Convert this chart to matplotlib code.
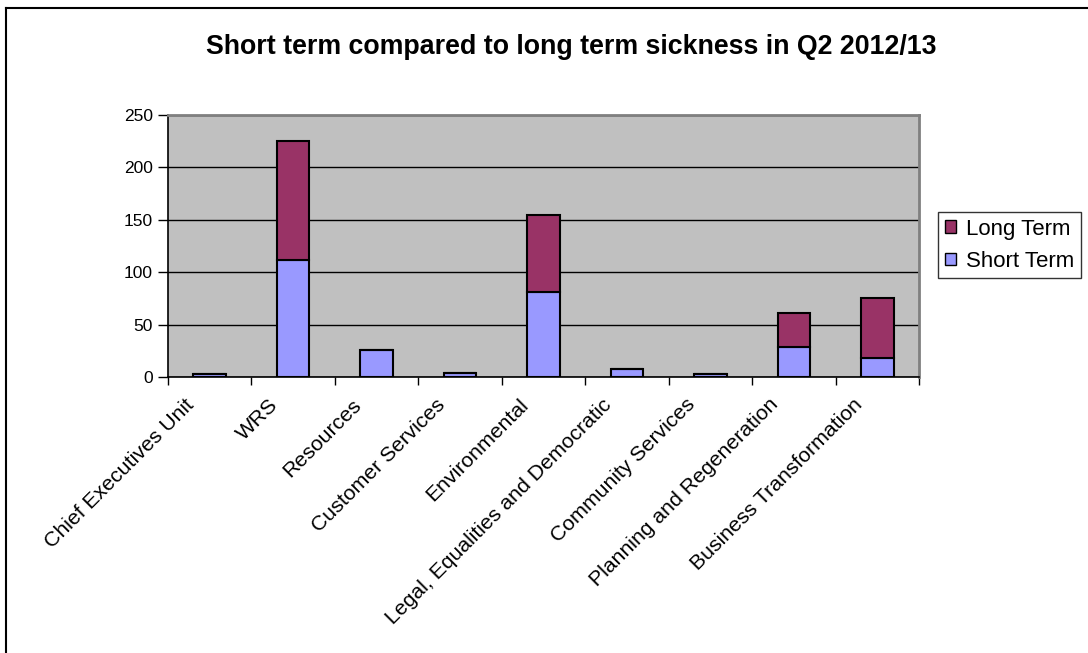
import numpy as np
import matplotlib
matplotlib.use("Agg")
import matplotlib.pyplot as plt
import matplotlib.transforms as mtransforms
from matplotlib.lines import Line2D
from matplotlib.patches import Patch

plt.rcParams['font.family'] = ['Liberation Sans', 'DejaVu Sans']

departments = ["Chief Executives Unit", "WRS", "Resources", "Customer Services",
               "Environmental", "Legal, Equalities and Democratic",
               "Community Services", "Planning and Regeneration",
               "Business Transformation"]
short_term = [3, 112, 26, 4, 81, 8, 3, 29, 18]
long_term = [0, 113, 0, 0, 74, 0, 0, 32, 57]
y_ticks = [0, 50, 100, 150, 200, 250]

fig = plt.figure(figsize=(10.88, 6.53), dpi=100)
ax = fig.add_axes([168 / 1088, 276 / 653, 751 / 1088, 262 / 653])
ax.set_facecolor("#C0C0C0")

x = np.arange(len(departments))
ax.bar(x, short_term, width=0.39, color="#9999FF", edgecolor="black",
       linewidth=1.5, zorder=3)
ax.bar(x, long_term, width=0.39, bottom=short_term, color="#993366",
       edgecolor="black", linewidth=1.5, zorder=3)

ax.set_xlim(-0.5, len(departments) - 0.5)
ax.set_ylim(0, 250)
ax.set_yticks(y_ticks)
ax.yaxis.grid(True, color="black", linewidth=1, zorder=1)
ax.set_axisbelow(True)

ax.set_xticks(x)
ax.set_xticklabels(departments, rotation=45, ha="right",
                   rotation_mode="anchor", fontsize=15.3)
ax.set_xticks(np.arange(len(departments) + 1) - 0.5, minor=True)
ax.tick_params(axis="x", which="major", length=0, pad=13)
ax.tick_params(axis="x", which="minor", length=6, width=1, color="black",
               direction="out")
ax.tick_params(axis="y", length=7, width=1, direction="out", labelsize=12.5,
               pad=4)

# shift the slanted category labels a little to the left of the bar centres
shift = mtransforms.ScaledTranslation(-25 / 100, 0, fig.dpi_scale_trans)
for lbl in ax.get_xticklabels():
    lbl.set_transform(lbl.get_transform() + shift)

for side in ["left", "bottom"]:
    ax.spines[side].set_color("black")
    ax.spines[side].set_linewidth(1.2)
for side in ["top", "right"]:
    ax.spines[side].set_color("#808080")
    ax.spines[side].set_linewidth(2)

fig.text(571 / 1088, 1 - 47 / 653,
         "Short term compared to long term sickness in Q2 2012/13",
         ha="center", va="center", fontsize=19.3, fontweight="bold")

handles = [Patch(facecolor="#993366", edgecolor="black", linewidth=1),
           Patch(facecolor="#9999FF", edgecolor="black", linewidth=1)]
leg = fig.legend(handles, ["Long Term", "Short Term"],
                 loc="upper left", bbox_to_anchor=(938 / 1088, 1 - 212 / 653),
                 fontsize=16, frameon=True, fancybox=False,
                 handlelength=0.5, handleheight=0.5, handletextpad=0.45,
                 labelspacing=0.5, borderpad=0.3, borderaxespad=0)
leg.get_frame().set_edgecolor("black")
leg.get_frame().set_linewidth(1)

# outer chart border
fig.add_artist(Line2D([6 / 1088, 6 / 1088], [0, 1 - 8 / 653], color="black",
                      linewidth=1.5))
fig.add_artist(Line2D([6 / 1088, 1], [1 - 8 / 653, 1 - 8 / 653], color="black",
                      linewidth=1.5))

fig.savefig("out.png", dpi=100)
